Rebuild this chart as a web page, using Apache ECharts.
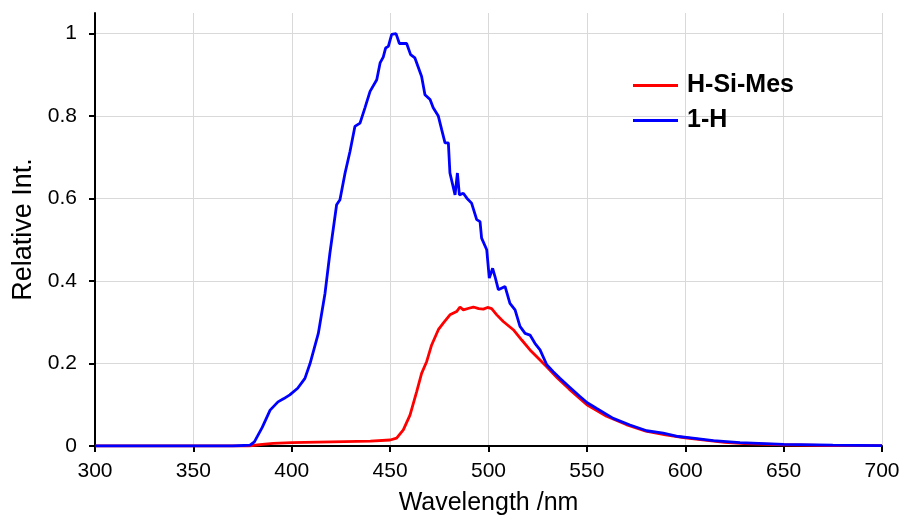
<!DOCTYPE html>
<html>
<head>
<meta charset="utf-8">
<script src="https://cdn.jsdelivr.net/npm/echarts@6/dist/echarts.min.js"></script>
<style>html,body{margin:0;padding:0;background:#fff;}#chart{width:904px;height:515px;}</style>
</head>
<body>
<div id="chart"></div>
<script>
const seriesNames = ["H-Si-Mes", "1-H"];
const xTicks = [300, 350, 400, 450, 500, 550, 600, 650, 700];
const yTicks = [0, 0.2, 0.4, 0.6, 0.8, 1];

const redX = [300, 378, 385, 390.6, 400, 420, 440, 450, 453.3, 456.7, 460.1, 463.5, 466, 468.6, 471.1, 474.5, 477, 480.4, 483.8, 485.5, 487.2, 490, 492.3, 495, 497.4, 499.5, 501.6, 504.2, 507.5, 512.6, 516.9, 521.1, 525.3, 529.6, 535, 541, 550, 560, 570, 580, 590, 600, 610, 620, 630, 650, 675, 700];
const redY = [0, 0, 0.004, 0.0065, 0.008, 0.010, 0.012, 0.0146, 0.019, 0.039, 0.075, 0.132, 0.176, 0.205, 0.245, 0.282, 0.298, 0.318, 0.326, 0.337, 0.33, 0.334, 0.337, 0.333, 0.332, 0.336, 0.333, 0.318, 0.302, 0.282, 0.257, 0.233, 0.213, 0.192, 0.165, 0.138, 0.10, 0.072, 0.052, 0.036, 0.027, 0.02, 0.014, 0.009, 0.006, 0.003, 0.001, 0.001];

const blueX = [300, 340, 370, 378.8, 381, 385, 389, 393, 396, 399, 403, 406.7, 409.3, 413.5, 416.9, 419.4, 422.8, 424.5, 427.1, 429.6, 432.1, 434.7, 437.2, 439.8, 443.2, 444.9, 446.5, 447.7, 449.1, 450.8, 453, 454.7, 458.4, 460.4, 462.6, 466, 467.7, 470.3, 471.9, 474.5, 476.2, 477.9, 479.6, 480.4, 483, 484.2, 485.2, 487.2, 489, 491.4, 494, 495.7, 496.5, 499.1, 500.4, 502.1, 503.3, 504.2, 505, 508.4, 510.9, 513.5, 516, 518.6, 521.1, 523.6, 526.2, 529.6, 532.9, 536.3, 541.4, 546.5, 550.2, 555, 563.4, 571.9, 580.4, 588.8, 596.5, 600.7, 614.3, 627.8, 650, 675, 700];
const blueY = [0, 0, 0, 0.002, 0.01, 0.045, 0.087, 0.107, 0.115, 0.124, 0.14, 0.164, 0.2, 0.273, 0.37, 0.468, 0.585, 0.597, 0.662, 0.714, 0.775, 0.783, 0.82, 0.86, 0.888, 0.929, 0.943, 0.965, 0.969, 0.998, 1.0, 0.976, 0.976, 0.949, 0.941, 0.896, 0.852, 0.84, 0.82, 0.8, 0.767, 0.735, 0.735, 0.662, 0.609, 0.662, 0.609, 0.613, 0.601, 0.589, 0.549, 0.544, 0.504, 0.476, 0.407, 0.431, 0.411, 0.415, 0.379, 0.387, 0.346, 0.33, 0.29, 0.273, 0.269, 0.249, 0.233, 0.197, 0.18, 0.164, 0.142, 0.12, 0.105, 0.091, 0.067, 0.051, 0.037, 0.031, 0.023, 0.021, 0.013, 0.008, 0.004, 0.002, 0.001];

const zip = (xs, ys) => xs.map((x, i) => [x, ys[i]]);
const FONT = 'Arial, "Liberation Sans", sans-serif';

const chart = echarts.init(document.getElementById('chart'), null, {renderer: 'canvas'});
chart.setOption({
  animation: false,
  backgroundColor: '#ffffff',
  grid: {left: 95, right: 22, top: 13, bottom: 69, containLabel: false, outerBoundsMode: 'none'},
  legend: {
    orient: 'vertical', left: 633, top: 73, padding: 0, itemGap: 10,
    itemWidth: 45, itemHeight: 3, icon: 'rect',
    data: seriesNames,
    textStyle: {fontFamily: FONT, fontSize: 25, fontWeight: 'bold', color: '#000', lineHeight: 25, padding: [0, 0, 0, 4]}
  },
  xAxis: {
    type: 'value', min: xTicks[0], max: xTicks[xTicks.length - 1], interval: 50,
    name: 'Wavelength /nm', nameLocation: 'middle', nameGap: 45,
    nameTextStyle: {fontFamily: FONT, fontSize: 25, color: '#000'},
    axisLine: {show: true, onZero: false, lineStyle: {color: '#000', width: 2}},
    axisTick: {show: true, inside: false, length: 6, lineStyle: {color: '#000', width: 2}},
    axisLabel: {fontFamily: FONT, fontSize: 21, color: '#000', margin: 15},
    splitLine: {show: true, lineStyle: {color: '#d9d9d9', width: 1}}
  },
  yAxis: {
    type: 'value', min: 0, max: 1.05, interval: 0.2,
    name: 'Relative Int.', nameLocation: 'middle', nameGap: 58,
    nameTextStyle: {fontFamily: FONT, fontSize: 27, color: '#000'},
    axisLine: {show: true, lineStyle: {color: '#000', width: 2}},
    axisTick: {show: true, inside: false, length: 6, lineStyle: {color: '#000', width: 2}, customValues: yTicks},
    axisLabel: {fontFamily: FONT, fontSize: 21, color: '#000', margin: 18, customValues: yTicks,
      formatter: v => String(Math.round(v * 10) / 10)},
    splitLine: {show: true, lineStyle: {color: '#d9d9d9', width: 1}}
  },
  series: [
    {name: seriesNames[0], type: 'line', data: zip(redX, redY), symbol: 'none', smooth: false,
     lineStyle: {color: '#ff0000', width: 2.8}, itemStyle: {color: '#ff0000'}},
    {name: seriesNames[1], type: 'line', data: zip(blueX, blueY), symbol: 'none', smooth: false,
     lineStyle: {color: '#0000ff', width: 2.8}, itemStyle: {color: '#0000ff'}}
  ]
});
</script>
</body>
</html>
